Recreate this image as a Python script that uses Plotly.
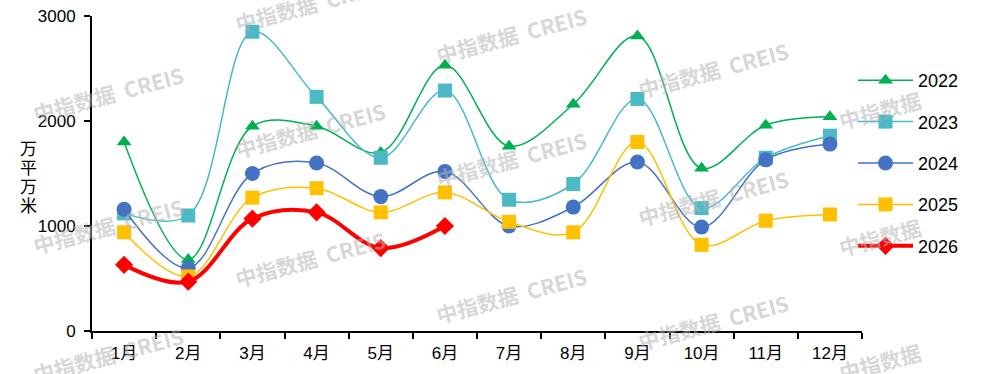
import plotly.graph_objects as go

months = ["1月", "2月", "3月", "4月", "5月", "6月", "7月", "8月", "9月", "10月", "11月", "12月"]
y2022 = [1800, 680, 1950, 1950, 1700, 2530, 1760, 2160, 2810, 1550, 1960, 2040]
y2023 = [1120, 1100, 2850, 2230, 1650, 2290, 1250, 1400, 2210, 1170, 1650, 1860]
y2024 = [1160, 600, 1500, 1600, 1280, 1520, 1000, 1180, 1610, 990, 1630, 1780]
y2025 = [940, 520, 1270, 1360, 1130, 1320, 1040, 940, 1800, 820, 1050, 1110]
y2026 = [630, 470, 1070, 1130, 790, 1000]

series = [
    ("2022", y2022, "#00B050", "triangle-up", 13, 1.5),
    ("2023", y2023, "#4BB9C6", "square", 14, 1.5),
    ("2024", y2024, "#4472C4", "circle", 15, 1.5),
    ("2025", y2025, "#FFC000", "square", 14, 1.5),
    ("2026", y2026, "#FF0000", "diamond", 14, 4),
]

FONT = "Liberation Sans, Arial, Noto Sans CJK SC"

fig = go.Figure()
for name, vals, color, sym, msize, lw in series:
    fig.add_trace(go.Scatter(
        x=months[:len(vals)], y=vals, name=name, legendgroup=name,
        mode="lines+markers",
        line=dict(color=color, width=lw, shape="spline", smoothing=1.0),
        marker=dict(symbol=sym, size=msize, color=color),
    ))

L, R, T, B = 92, 120, 16, 43
W, H = 982, 374
pw, ph = W - L - R, H - T - B

def px2paper(px, py):
    return (px - L) / pw, (H - B - py) / ph

# watermark positions (pixel centres)
wm_full = [(108, 94), (108, 226), (108, 355),
           (310, 4), (310, 130), (310, 259),
           (512, 35), (512, 159), (512, 295),
           (713, 70), (713, 198), (713, 322)]
wm_short = [(880, 110), (880, 237), (880, 362)]
WM_FONT = dict(family="Noto Sans CJK SC", size=21, weight="bold", color="rgba(180,180,180,0.55)")
for (cx, cy) in wm_full:
    x, y = px2paper(cx, cy)
    fig.add_annotation(x=x, y=y, xref="paper", yref="paper", text="中指数据  CREIS",
                       xanchor="center", yanchor="middle",
                       showarrow=False, textangle=-15, font=WM_FONT)
for (cx, cy) in wm_short:
    x, y = px2paper(cx, cy)
    fig.add_annotation(x=x, y=y, xref="paper", yref="paper", text="中指数据",
                       xanchor="center", yanchor="middle",
                       showarrow=False, textangle=-15, font=WM_FONT)

# y-axis title, stacked characters
for i, ch in enumerate("万平万米"):
    tx, ty = px2paper(28, 147 + i * 19)
    fig.add_annotation(x=tx, y=ty, xref="paper", yref="paper", text=ch,
                       xanchor="center", yanchor="middle", showarrow=False,
                       font=dict(family="Noto Sans CJK SC", size=17, color="black"))

fig.update_layout(
    width=W, height=H,
    margin=dict(l=L, r=R, t=T, b=B, autoexpand=False),
    paper_bgcolor="white", plot_bgcolor="white",
    font=dict(family=FONT, size=17, color="black"),
    showlegend=True,
    legend=dict(x=(853 - L) / pw, xanchor="left", y=(H - B - 62) / ph, yanchor="top",
                traceorder="grouped", tracegroupgap=15, itemwidth=55,
                font=dict(family=FONT, size=18, color="black"), bgcolor="rgba(0,0,0,0)"),
    xaxis=dict(type="category", range=[-0.5, 11.5], showline=True, linecolor="black", linewidth=2,
               ticks="outside", tickson="boundaries", ticklen=6, tickwidth=1.5, tickcolor="black",
               ticklabelstandoff=6,
               showgrid=False, zeroline=False, fixedrange=True),
    yaxis=dict(range=[0, 3000], tickvals=[0, 1000, 2000, 3000], showline=True, linecolor="black",
               linewidth=2, ticks="outside", ticklen=6, tickwidth=1.5, tickcolor="black",
               ticklabelstandoff=5,
               showgrid=False, zeroline=False, fixedrange=True),
)

fig.write_html("out.html")
